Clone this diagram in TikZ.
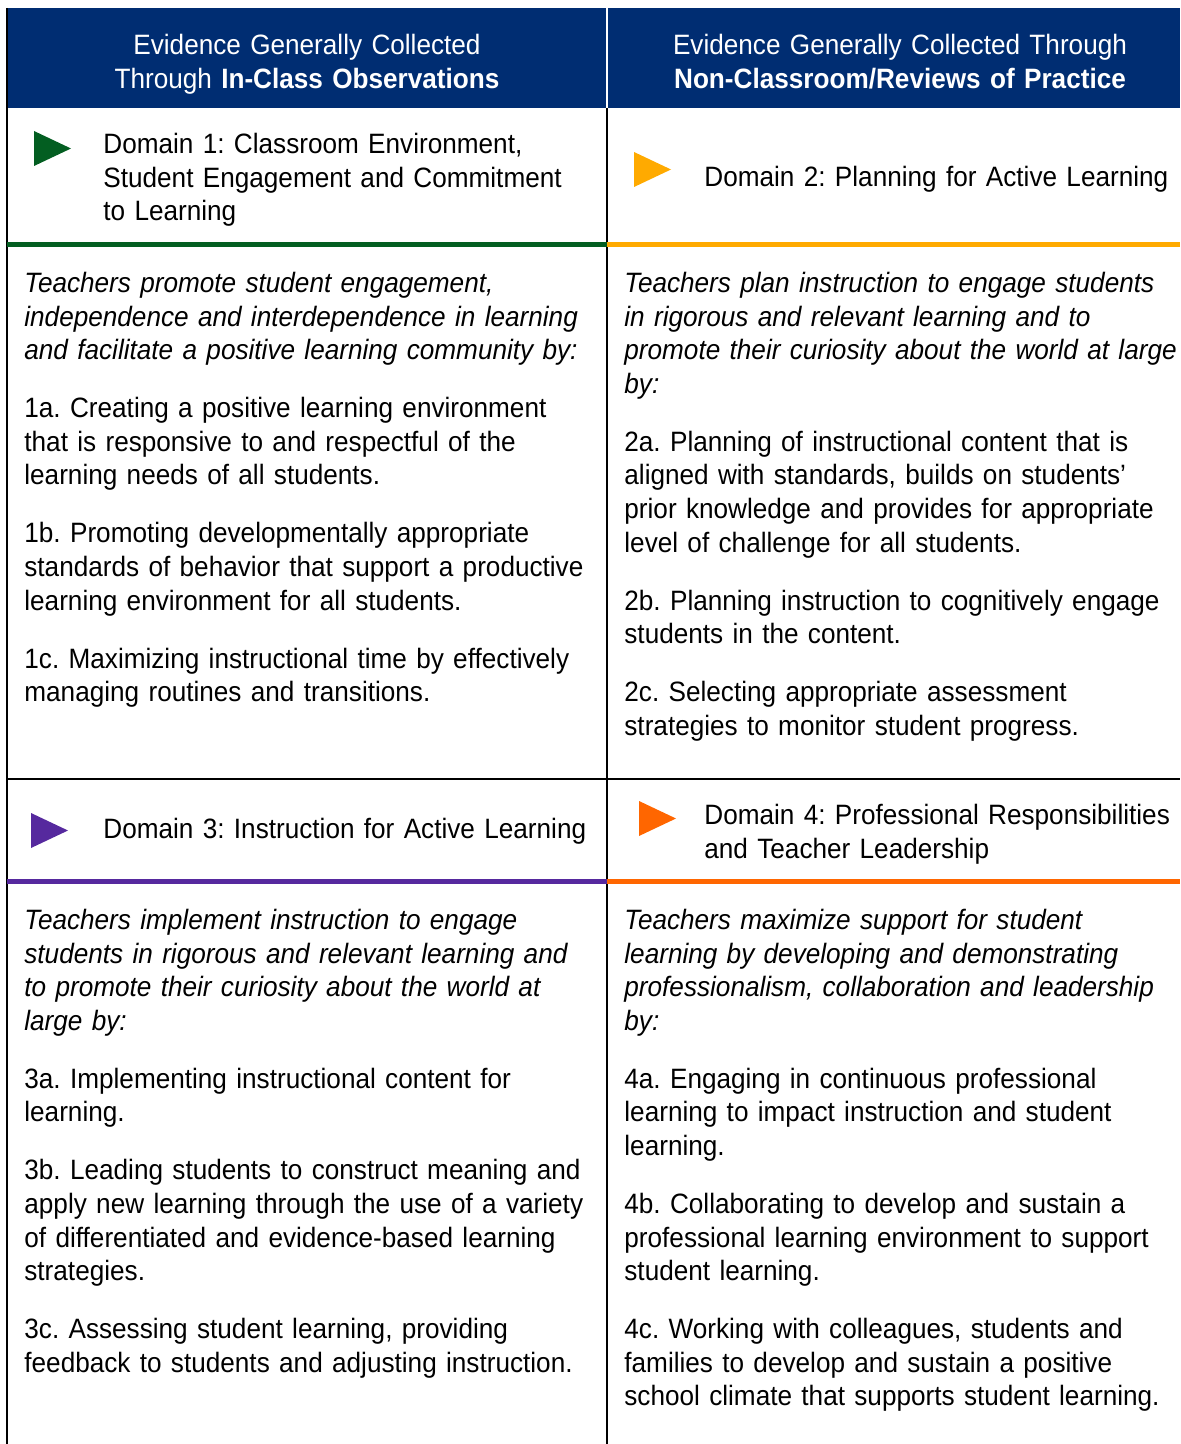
\documentclass[tikz,border=0pt]{standalone}
\usepackage{fontspec}
\setmainfont{Liberation Sans}[FakeStretch=0.934]
\usepackage{xcolor}
\usetikzlibrary{positioning}

\definecolor{hdrblue}{HTML}{002D72}
\definecolor{domgreen}{HTML}{035E21}
\definecolor{domgold}{HTML}{FFAA00}
\definecolor{dompurple}{HTML}{56299E}
\definecolor{domorange}{HTML}{FF6600}

\newcommand{\cellfont}{\fontsize{14}{16.8}\selectfont\frenchspacing}
\newcommand{\parjump}{\\[12.2pt]}

\tikzset{
	hdrtext/.style = {anchor=north, inner sep=0pt, text width=290pt, align=center, text=white, font=\cellfont},
	domtext/.style = {anchor=north west, inner sep=0pt, text width=320pt, align=left, font=\cellfont},
	celltext/.style = {anchor=north west, inner sep=0pt, text width=320pt, align=left, font=\cellfont},
	rule/.style = {line width=1pt, black}
}

\begin{document}
\begin{tikzpicture}[x=0.5pt, y=-0.5pt]
	\useasboundingbox (0,0) rectangle (1180,1444);

	% header band
	\fill [hdrblue] (7,8) rectangle (1180,108);
	\draw [white, line width=0.8pt] (607,8) -- (607,108);

	% table lines
	\begin{scope}[rule]
		\draw (7,8) -- (7,1444);
		\draw (607,108) -- (607,1444);
		\draw (7,779) -- (1180,779);
	\end{scope}

	% coloured domain rules
	\fill [domgreen] (7,242) rectangle (607,247);
	\fill [domgold] (607,242) rectangle (1180,247);
	\fill [dompurple] (7,879) rectangle (607,884);
	\fill [domorange] (607,879) rectangle (1180,884);

	% domain markers
	\foreach \tx/\ty/\tc in {34/148.5/domgreen, 634/169.5/domgold, 31/830.5/dompurple, 639/818.5/domorange}
	{
		\fill [\tc] (\tx,\ty-17.5) -- ++(37,17.5) -- ++(-37,17.5) -- cycle;
	}

	\node (hdrL) [hdrtext] at (307,30.5) {\strut Evidence Generally Collected\\ Through \textbf{In-Class Observations}};
	\node (hdrR) [hdrtext] at (900,30.5) {\strut Evidence Generally Collected Through\\ \textbf{Non-Classroom/Reviews of Practice}};

	\node (dom1) [domtext] at (103,129.5) {\strut Domain 1: Classroom Environment,\\ Student Engagement and Commitment\\ to Learning};
	\node (dom2) [domtext] at (704,162.5) {\strut Domain 2: Planning for Active Learning};
	\node (dom3) [domtext] at (103,814.5) {\strut Domain 3: Instruction for Active Learning};
	\node (dom4) [domtext] at (704,800.5) {\strut Domain 4: Professional Responsibilities\\ and Teacher Leadership};

	\node (body1) [celltext] at (24,268.5) {\strut{\itshape Teachers promote student engagement,\\ independence and interdependence in learning\\ and facilitate a positive learning community by:}\parjump
		1a. Creating a positive learning environment\\ that is responsive to and respectful of the\\ learning needs of all students.\parjump
		1b. Promoting developmentally appropriate\\ standards of behavior that support a productive\\ learning environment for all students.\parjump
		1c. Maximizing instructional time by effectively\\ managing routines and transitions.};

	\node (body2) [celltext] at (624,268.5) {\strut{\itshape Teachers plan instruction to engage students\\ in rigorous and relevant learning and to\\ promote their curiosity about the world at large\\ by:}\parjump
		2a. Planning of instructional content that is\\ aligned with standards, builds on students’\\ prior knowledge and provides for appropriate\\ level of challenge for all students.\parjump
		2b. Planning instruction to cognitively engage\\ students in the content.\parjump
		2c. Selecting appropriate assessment\\ strategies to monitor student progress.};

	\node (body3) [celltext] at (24,905.5) {\strut{\itshape Teachers implement instruction to engage\\ students in rigorous and relevant learning and\\ to promote their curiosity about the world at\\ large by:}\parjump
		3a. Implementing instructional content for\\ learning.\parjump
		3b. Leading students to construct meaning and\\ apply new learning through the use of a variety\\ of differentiated and evidence-based learning\\ strategies.\parjump
		3c. Assessing student learning, providing\\ feedback to students and adjusting instruction.};

	\node (body4) [celltext] at (624,905.5) {\strut{\itshape Teachers maximize support for student\\ learning by developing and demonstrating\\ professionalism, collaboration and leadership\\ by:}\parjump
		4a. Engaging in continuous professional\\ learning to impact instruction and student\\ learning.\parjump
		4b. Collaborating to develop and sustain a\\ professional learning environment to support\\ student learning.\parjump
		4c. Working with colleagues, students and\\ families to develop and sustain a positive\\ school climate that supports student learning.};
\end{tikzpicture}
\end{document}
